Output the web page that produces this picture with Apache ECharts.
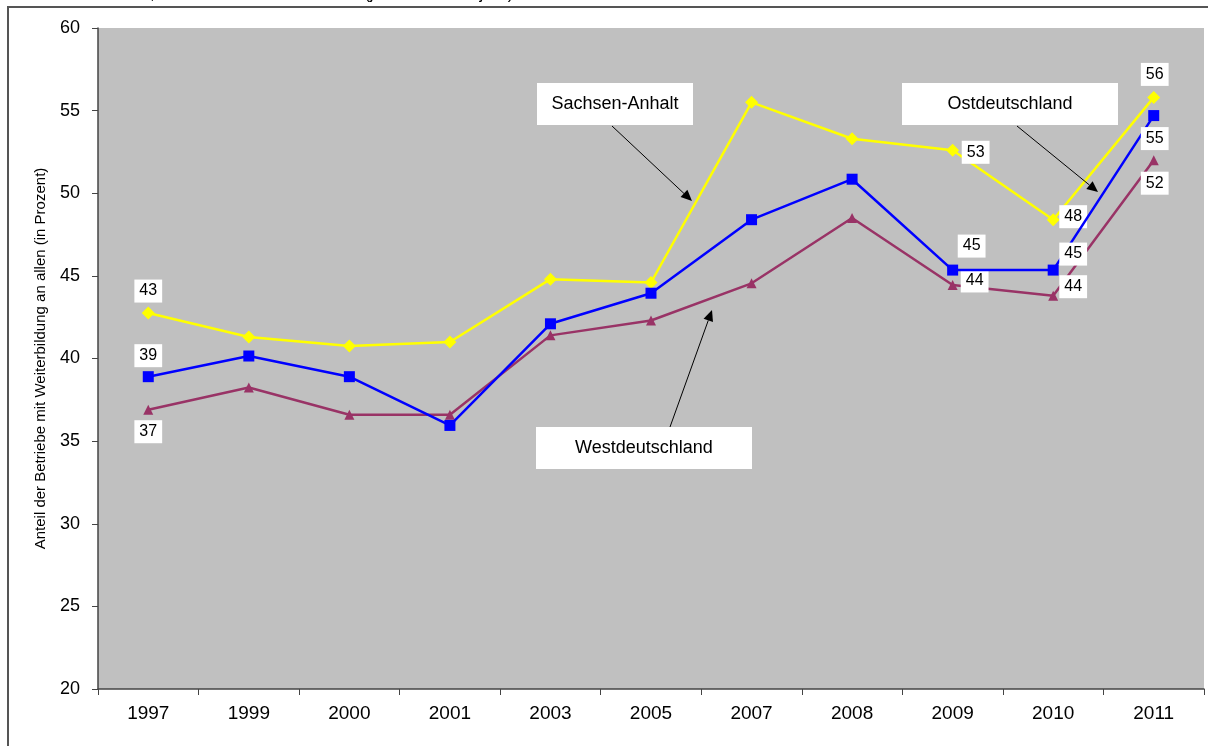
<!DOCTYPE html>
<html>
<head>
<meta charset="utf-8">
<title>Weiterbildung</title>
<script src="https://cdn.jsdelivr.net/npm/echarts@6/dist/echarts.min.js"></script>
<style>
  html, body { margin: 0; padding: 0; background: #fff; }
  #chart { width: 1208px; height: 746px; }
</style>
</head>
<body>
<div id="chart"></div>
<script>
// Jahre (x-Achse)
var years = ['1997', '1999', '2000', '2001', '2003', '2005', '2007', '2008', '2009', '2010', '2011'];

// Anteil der Betriebe mit Weiterbildung (in Prozent)
var sachsenAnhalt = [42.75, 41.3, 40.75, 41.0, 44.8, 44.6, 55.5, 53.3, 52.6, 48.4, 55.8];
var ostdeutschland = [38.9, 40.15, 38.9, 35.95, 42.1, 43.95, 48.4, 50.85, 45.35, 45.35, 54.7];
var westdeutschland = [36.9, 38.25, 36.6, 36.6, 41.4, 42.3, 44.55, 48.5, 44.45, 43.8, 52.0];

// welche Punkte beschriftet sind (Index -> Versatz des Labels)
var saLabels = { 0: [0, -22], 8: [23, 2], 9: [20, -3], 10: [1, -23] };
var ostLabels = { 0: [0, -21], 8: [19, -24], 9: [20, -16], 10: [1, 23] };
var westLabels = { 0: [0, 22], 8: [22, -4], 9: [20, -9], 10: [1, 23] };

function withLabels(values, labels) {
  return values.map(function (v, i) {
    if (!labels[i]) return v;
    return {
      value: v,
      label: {
        show: true,
        position: 'inside',
        offset: labels[i],
        formatter: function (p) { return Math.round(p.value); },
        backgroundColor: '#fff',
        color: '#000',
        fontFamily: 'Liberation Sans',
        fontSize: 16,
        padding: [4, 5, 3, 5]
      }
    };
  });
}

function arrow(x1, y1, x2, y2) {
  var ang = Math.atan2(y2 - y1, x2 - x1);
  var len = 11, w = 5;
  var bx = x2 - len * Math.cos(ang), by = y2 - len * Math.sin(ang);
  var px = -Math.sin(ang) * w, py = Math.cos(ang) * w;
  return [
    { type: 'line', shape: { x1: x1, y1: y1, x2: bx, y2: by }, style: { stroke: '#000', lineWidth: 1 }, z: 100 },
    { type: 'polygon', shape: { points: [[x2, y2], [bx + px, by + py], [bx - px, by - py]] }, style: { fill: '#000' }, z: 100 }
  ];
}

function box(x, y, w, h, text) {
  return {
    type: 'group', x: x, y: y, z: 100,
    children: [
      { type: 'rect', shape: { x: 0, y: 0, width: w, height: h }, style: { fill: '#fff' } },
      { type: 'text', x: w / 2, y: h / 2, style: { text: text, fill: '#000', font: '18px "Liberation Sans"', align: 'center', verticalAlign: 'middle' } }
    ]
  };
}

var chart = echarts.init(document.getElementById('chart'));

var graphics = [
  { type: 'rect', shape: { x: 8, y: 7, width: 1220, height: 760 }, style: { fill: 'none', stroke: '#555', lineWidth: 2 }, z: 0 },
  { type: 'text', x: 30, y: -14, style: { text: 'Sachsen-Anhalt, Ost- und Westdeutschland (jeweils 1. Halbjahr)', fill: '#000', font: '17px "Liberation Sans"' } },
  box(537, 83, 156, 42, 'Sachsen-Anhalt'),
  box(902, 83, 216, 42, 'Ostdeutschland'),
  box(536, 427, 216, 42, 'Westdeutschland')
].concat(arrow(612, 126, 692, 201), arrow(1017, 126, 1098, 192), arrow(670, 427, 712, 310));

chart.setOption({
  animation: false,
  textStyle: { fontFamily: 'Liberation Sans' },
  grid: { left: 98, right: 4, top: 28, bottom: 57, show: true, backgroundColor: '#C0C0C0', borderWidth: 0 },
  xAxis: {
    type: 'category',
    data: years,
    boundaryGap: true,
    axisLine: { lineStyle: { color: '#444', width: 1.5 } },
    axisTick: { show: true, length: 6, lineStyle: { color: '#444' } },
    axisLabel: { color: '#000', fontSize: 19, margin: 15 }
  },
  yAxis: {
    type: 'value',
    min: 20, max: 60, interval: 5,
    name: 'Anteil der Betriebe mit Weiterbildung an allen (in Prozent)',
    nameLocation: 'middle',
    nameGap: 50,
    nameTextStyle: { color: '#000', fontSize: 15 },
    axisLine: { show: true, lineStyle: { color: '#444', width: 1.5 } },
    axisTick: { show: true, length: 6, lineStyle: { color: '#444' } },
    axisLabel: { color: '#000', fontSize: 18, margin: 18 },
    splitLine: { show: false }
  },
  series: [
    {
      name: 'Sachsen-Anhalt', type: 'line', data: withLabels(sachsenAnhalt, saLabels),
      symbol: 'diamond', symbolSize: 13,
      itemStyle: { color: '#FFFF00' }, lineStyle: { color: '#FFFF00', width: 2.5 }, z: 3
    },
    {
      name: 'Ostdeutschland', type: 'line', data: withLabels(ostdeutschland, ostLabels),
      symbol: 'rect', symbolSize: 11,
      itemStyle: { color: '#0000FF' }, lineStyle: { color: '#0000FF', width: 2.5 }, z: 4
    },
    {
      name: 'Westdeutschland', type: 'line', data: withLabels(westdeutschland, westLabels),
      symbol: 'triangle', symbolSize: 10,
      itemStyle: { color: '#993366' }, lineStyle: { color: '#993366', width: 2.5 }, z: 2
    }
  ],
  graphic: graphics
});
</script>
</body>
</html>
